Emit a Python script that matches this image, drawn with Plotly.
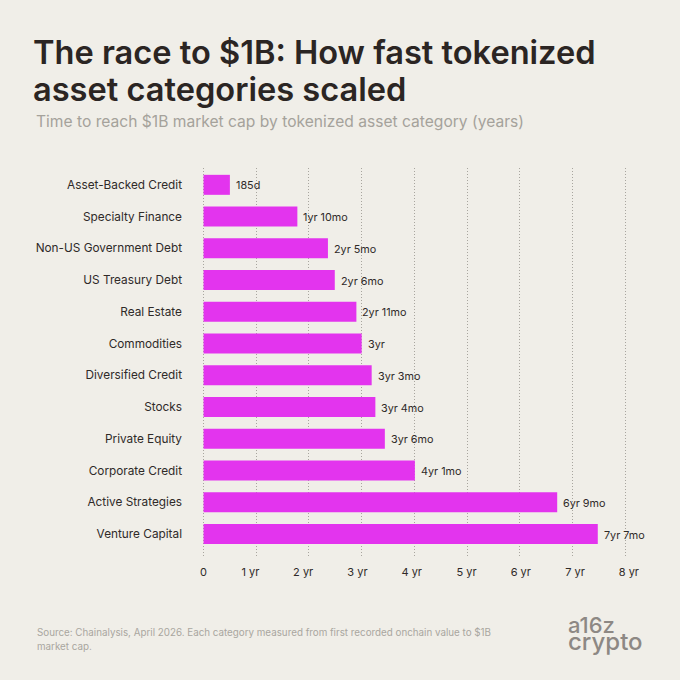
import plotly.graph_objects as go

# time to reach $1B, in years
categories = ['Asset-Backed Credit', 'Specialty Finance', 'Non-US Government Debt', 'US Treasury Debt',
              'Real Estate', 'Commodities', 'Diversified Credit', 'Stocks', 'Private Equity',
              'Corporate Credit', 'Active Strategies', 'Venture Capital']
years = [0.5, 1.78, 2.36, 2.49, 2.9, 3.0, 3.19, 3.26, 3.44, 4.01, 6.71, 7.48]
value_labels = ['185d', '1yr 10mo', '2yr 5mo', '2yr 6mo', '2yr 11mo', '3yr', '3yr 3mo', '3yr 4mo',
                '3yr 6mo', '4yr 1mo', '6yr 9mo', '7yr 7mo']
ticks = [0, 1, 2, 3, 4, 5, 6, 7, 8]
tick_labels = ['0', '1 yr', '2 yr', '3 yr', '4 yr', '5 yr', '6 yr', '7 yr', '8 yr']
# labels drift away from the gridlines in the original
tick_nudge = [0, -0.11, -0.11, -0.08, -0.05, -0.01, 0.02, 0.05, 0.07]

BG = '#f0eee8'
FONT = 'Inter'
DARK = '#2f2a28'

# plot area runs a bit past 0 and 8 so the gridlines there get drawn
X_RANGE = [-0.2, 8.3]
LEFT, RIGHT, TOP, BOTTOM = 192.95, 641.1, 168, 556

fig = go.Figure()
fig.add_trace(go.Bar(x=years, y=categories, orientation='h', width=0.63,
                     marker=dict(color='#e334ee', line_width=0)))
# invisible trace so the overlay axis for the tick labels gets drawn
fig.add_trace(go.Scatter(x=[0], y=[categories[0]], xaxis='x2', mode='markers',
                         marker_opacity=0, hoverinfo='skip'))

annotations = []
for name, v, label in zip(categories, years, value_labels):
    annotations.append(dict(x=v, y=name, text=label, showarrow=False, xanchor='left', xshift=4, yshift=-1,
                            font=dict(family=FONT, size=10.8, color=DARK)))


def note(x, y, text, size, color, weight=400):
    annotations.append(dict(x=(x - LEFT) / (RIGHT - LEFT), y=(BOTTOM - y) / (BOTTOM - TOP),
                            xref='paper', yref='paper', text=text, showarrow=False, xanchor='left',
                            yanchor='middle', align='left',
                            font=dict(family=FONT, size=size, color=color, weight=weight)))


note(30.5, 52, 'The race to $1B: How fast tokenized', 32.6, '#2b2523', 600)
note(30.5, 89, 'asset categories scaled', 32.6, '#2b2523', 600)
note(34, 121, 'Time to reach $1B market cap by tokenized asset category (years)', 15.6, '#a5a29b')
note(34.5, 632, 'Source: Chainalysis, April 2026. Each category measured from first recorded onchain value to $1B', 9.8, '#a9a69f')
note(34.5, 646, 'market cap.', 9.8, '#a9a69f')
note(566, 625, 'a16z', 22, '#8d8884', 500)
note(566, 641, 'crypto', 24, '#8d8884', 500)

fig.update_layout(
    width=680, height=680, autosize=False,
    margin=dict(l=LEFT, r=680 - RIGHT, t=TOP, b=680 - BOTTOM, pad=0),
    paper_bgcolor=BG, plot_bgcolor=BG,
    showlegend=False,
    font=dict(family=FONT, size=12, color=DARK),
    annotations=annotations,
    xaxis=dict(range=X_RANGE, tickvals=ticks, showticklabels=False, showgrid=True, gridcolor='#a8a59e',
               griddash='1px,2px', gridwidth=1, zeroline=False, showline=False, ticks=''),
    xaxis2=dict(overlaying='x', side='bottom', range=X_RANGE, tickmode='array',
                tickvals=[t + n for t, n in zip(ticks, tick_nudge)], ticktext=tick_labels,
                showgrid=False, zeroline=False, showline=False, ticks='',
                tickfont=dict(family=FONT, size=11, color=DARK), ticklabelstandoff=8),
    yaxis=dict(range=[11.69, -0.53], type='category', showgrid=False, zeroline=False, showline=False, ticks='',
               tickfont=dict(family=FONT, size=11.8, color=DARK), ticklabelstandoff=10),
)

fig.write_html("out.html", config=dict(displayModeBar=False), post_script="document.body.style.margin='0';")
